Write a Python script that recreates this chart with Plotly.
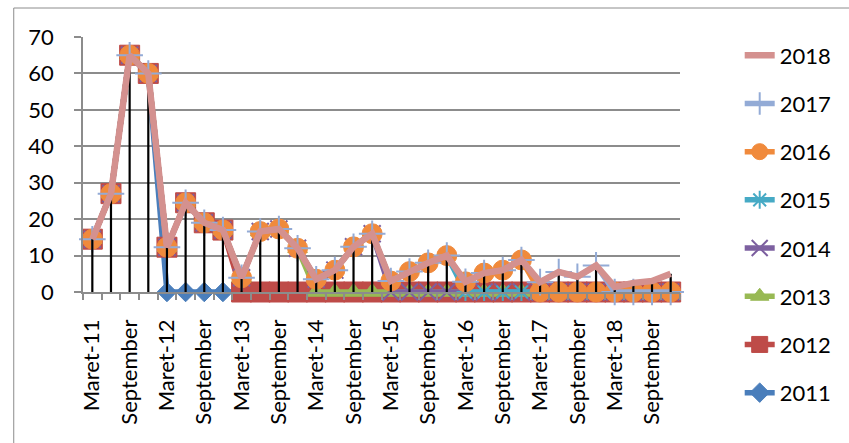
import plotly.graph_objects as go

# Quarterly values per year (Maret, Juni, September, Desember)
years = [2011, 2012, 2013, 2014, 2015, 2016, 2017, 2018]
q2011 = [14.5, 27, 65, 60]
q2012 = [12.3, 24.5, 19, 17]
q2013 = [3.9, 16.6, 17.3, 12]
q2014 = [3.5, 6, 12.4, 16]
q2015 = [3, 5.6, 8, 10]
q2016 = [2.8, 5.2, 6, 8.8]
q2017 = [2.7, 5.5, 4.2, 7.3]
q2018 = [1.4, 2.5, 3, 5]
quarters_by_year = [q2011, q2012, q2013, q2014, q2015, q2016, q2017, q2018]

quarter_names = ["Maret", "Juni", "September", "Desember"]
categories = []
for y in years:
    for qi, qn in enumerate(quarter_names):
        categories.append(f"{qn}-{str(y)[2:]}" if qi == 0 else qn)

colors = ["#4A7EBB", "#BE4B48", "#98B954", "#7D60A0", "#46AAC5", "#F08A3C", "#93ABD6", "#D4918F"]
symbols = ["diamond", "square", "triangle-up", "x-thin-open", "asterisk-open", "circle", "cross-thin-open", None]
sizes = [15, 20, 17, 17, 15, 20, 19, 0]
widths = [5.5, 5.5, 5.5, 5.5, 5.5, 5.5, 5.5, 6.5]

FONT = "Lato"
xs_all = list(range(len(categories)))

fig = go.Figure()

# each yearly series carries the values up to its own year and zeros after it
series = []
for k, y in enumerate(years):
    vals = []
    for j, q in enumerate(quarters_by_year):
        vals += list(q) if j <= k else [0] * len(q)
    series.append(vals)

full = series[-1]

for k, y in enumerate(years):
    if k == len(years) - 1:
        # drop lines from each top value down to the category axis
        dx, dy = [], []
        for i, v in enumerate(full):
            dx += [i, i, None]
            dy += [0, v, None]
        fig.add_trace(go.Scatter(x=dx, y=dy, mode="lines",
                                 line=dict(color="black", width=2.2),
                                 showlegend=False, hoverinfo="skip", cliponaxis=False))
    sym = symbols[k]
    if sym is None:
        marker = None
        mode = "lines"
    elif sym.endswith("-open"):
        marker = dict(symbol=sym, size=sizes[k], color=colors[k],
                      line=dict(color=colors[k], width=2))
        mode = "lines+markers"
    else:
        marker = dict(symbol=sym, size=sizes[k], color=colors[k],
                      line=dict(color=colors[k], width=1))
        mode = "lines+markers"
    fig.add_trace(go.Scatter(
        x=xs_all, y=series[k], name=str(y), mode=mode,
        line=dict(color=colors[k], width=widths[k]),
        marker=marker, legendgroup=str(y), legendrank=3000 - y,
        cliponaxis=False,
    ))

fig.update_layout(
    width=849, height=443,
    margin=dict(l=83, r=167, t=37, b=151),
    paper_bgcolor="white", plot_bgcolor="white",
    font=dict(family=FONT, size=22, color="black"),
    showlegend=True,
    legend=dict(traceorder="grouped", tracegroupgap=16.6,
                x=1.1, xanchor="left", y=1.01, yanchor="top",
                maxheight=440,
                font=dict(family=FONT, size=22), bgcolor="rgba(0,0,0,0)",
                itemwidth=30),
    shapes=[dict(type="rect", xref="paper", yref="paper",
                 x0=-0.116, x1=1.3, y0=-0.7, y1=1.1137,
                 line=dict(color="#8c8c8c", width=1), layer="below")],
)

fig.update_xaxes(
    range=[-0.5, len(categories) - 0.5],
    tickmode="array", tickvals=xs_all[::2], ticktext=categories[::2],
    tickangle=-90, ticks="", showgrid=False, zeroline=False,
    showline=True, linecolor="#8c8c8c", linewidth=1.5,
    ticklabelstandoff=17,
    tickfont=dict(family=FONT, size=22, color="black"),
    minor=dict(tickmode="linear", tick0=-0.5, dtick=1, ticks="outside",
               ticklen=6, tickcolor="#8c8c8c", tickwidth=1.5),
)
fig.update_yaxes(
    range=[0, 70], dtick=10, tick0=0,
    showgrid=True, gridcolor="#8c8c8c", gridwidth=1.5,
    zeroline=False, showline=True, linecolor="#8c8c8c", linewidth=1.5,
    ticks="outside", ticklen=7, tickcolor="#8c8c8c", tickwidth=1.5,
    ticklabelstandoff=16,
    tickfont=dict(family=FONT, size=22, color="black"),
)

fig.write_html("out.html")
